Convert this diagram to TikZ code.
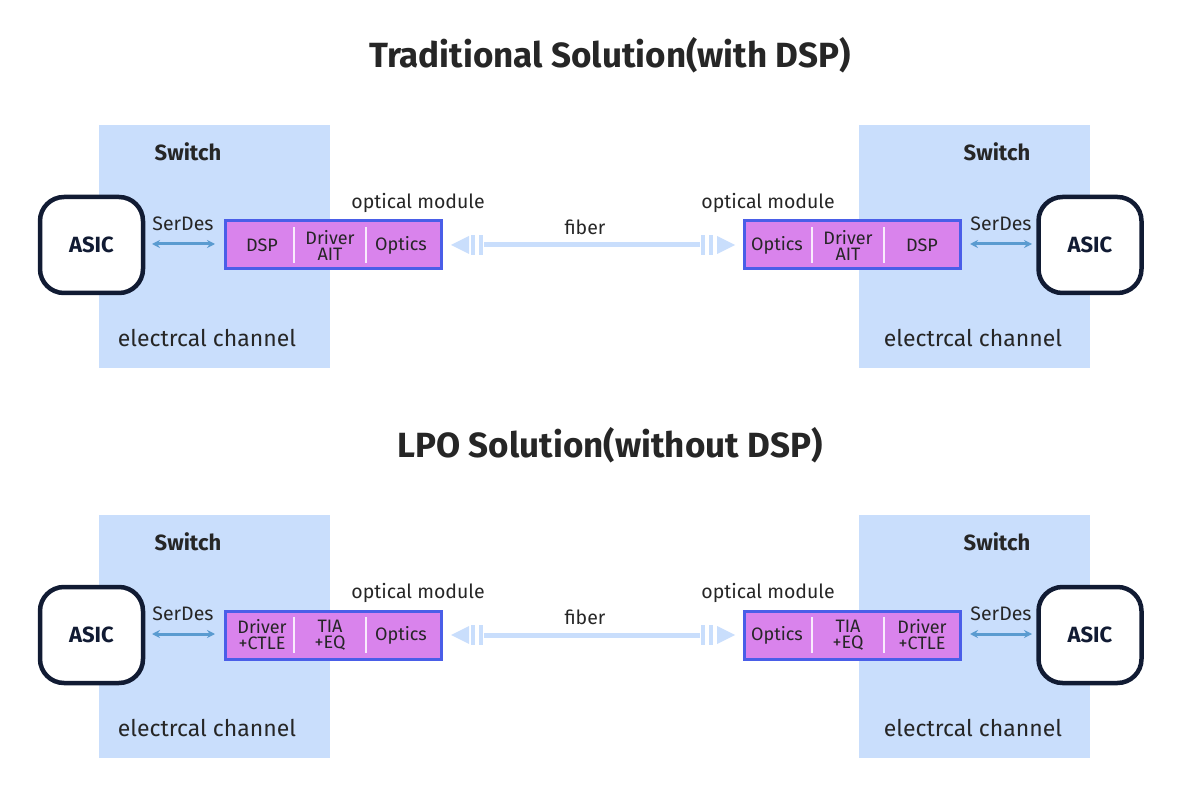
\documentclass[tikz,border=0pt]{standalone}
\usepackage{fontspec}
\setmainfont{Fira Sans}
\usetikzlibrary{arrows.meta}
\definecolor{sw}{HTML}{C9DEFC}
\definecolor{navy}{HTML}{111B33}
\definecolor{mod}{HTML}{D983EC}
\definecolor{modb}{HTML}{4A5EE8}
\definecolor{ser}{HTML}{5A9BD0}
\definecolor{fib}{HTML}{C9DEFC}
\definecolor{txt}{HTML}{262626}
\tikzset{
 switch/.style={fill=sw,draw=none},
 asic/.style={draw=navy,line width=4.5pt,rounded corners=24pt,fill=white,minimum width=103pt,minimum height=96pt,font=\fontsize{22}{24}\selectfont\bfseries,text=navy},
 module/.style={draw=modb,line width=3pt,fill=mod,minimum width=216pt,minimum height=48pt},
 lab/.style={font=\fontsize{19.5}{21}\selectfont,text=txt,inner sep=0pt},
 cell/.style={font=\fontsize{18}{16}\selectfont,text=txt,align=center,inner sep=0pt},
 big/.style={font=\fontsize{23}{25}\selectfont,text=txt,inner sep=0pt},
 title/.style={font=\fontsize{35}{37}\selectfont\bfseries,text=txt},
 sd/.style={ser,line width=3pt,{Stealth[length=8pt,width=8pt]}-{Stealth[length=8pt,width=8pt]}},
 fibl/.style={fib,line width=5pt},
}
\newcommand{\panel}[7]{%
\begin{scope}[yshift=-#1pt]
\fill[switch] (99,125) rectangle (330,368);
\fill[switch] (859,125) rectangle (1090,368);
\node[asic] (aL#7) at (91.5,245) {ASIC};
\node[asic] (aR#7) at (1090,245) {ASIC};
\node[module] (mL#7) at (333,245) {};
\node[module] (mR#7) at (852,245) {};
\draw[white!85!mod,line width=2.5pt] (294,227)--(294,263) (366,227)--(366,263);
\draw[white!85!mod,line width=2.5pt] (812,227)--(812,263) (884,227)--(884,263);
\node[cell] at (262,245) {#2};
\node[cell] at (330,245) {#3};
\node[cell] at (401,245) {#4};
\node[cell] at (777,245) {#4};
\node[cell] at (848,245) {#3};
\node[cell] at (922,245) {#5};
\node[lab] at (183,224) {SerDes};
\node[lab] at (1001,224) {SerDes};
\coordinate (s1#7) at (152,244); \coordinate (s2#7) at (215,244);
\coordinate (s3#7) at (970,244); \coordinate (s4#7) at (1032,244);
\draw[sd] (s1#7)--(s2#7);
\draw[sd] (s3#7)--(s4#7);
\node[lab] at (418,203) {optical module};
\node[lab] at (768,203) {optical module};
\node[lab,font=\fontsize{22}{24}\selectfont\bfseries] at (188,152) {Switch};
\node[lab,font=\fontsize{22}{24}\selectfont\bfseries] at (997,152) {Switch};
\node[big] at (207,338) {electrcal channel};
\node[big] at (973,338) {electrcal channel};
\node[lab] at (585,227) {fiber};
\coordinate (f1#7) at (484,245); \coordinate (f2#7) at (700,245);
\draw[fibl] (f1#7)--(f2#7);
\fill[fib] (451,245)--(469,236)--(469,254)--cycle;
\fill[fib] (735,245)--(717,236)--(717,254)--cycle;
\foreach \x in {473,481,703,711} \fill[fib] (\x-2,235) rectangle (\x+2,255);
\end{scope}}
\begin{document}
\begin{tikzpicture}[x=1pt,y=-1pt]
\useasboundingbox (0,0) rectangle (1200,799);
\node[title] (t1) at (610,55) {Traditional Solution(with DSP)};
\node[title] (t2) at (610,445) {LPO Solution(without DSP)};
\panel{0}{DSP}{Driver\\AIT}{Optics}{DSP}{a}{a}
\panel{390}{Driver\\+CTLE}{TIA\\+EQ}{Optics}{Driver\\+CTLE}{b}{b}
\end{tikzpicture}
\end{document}
